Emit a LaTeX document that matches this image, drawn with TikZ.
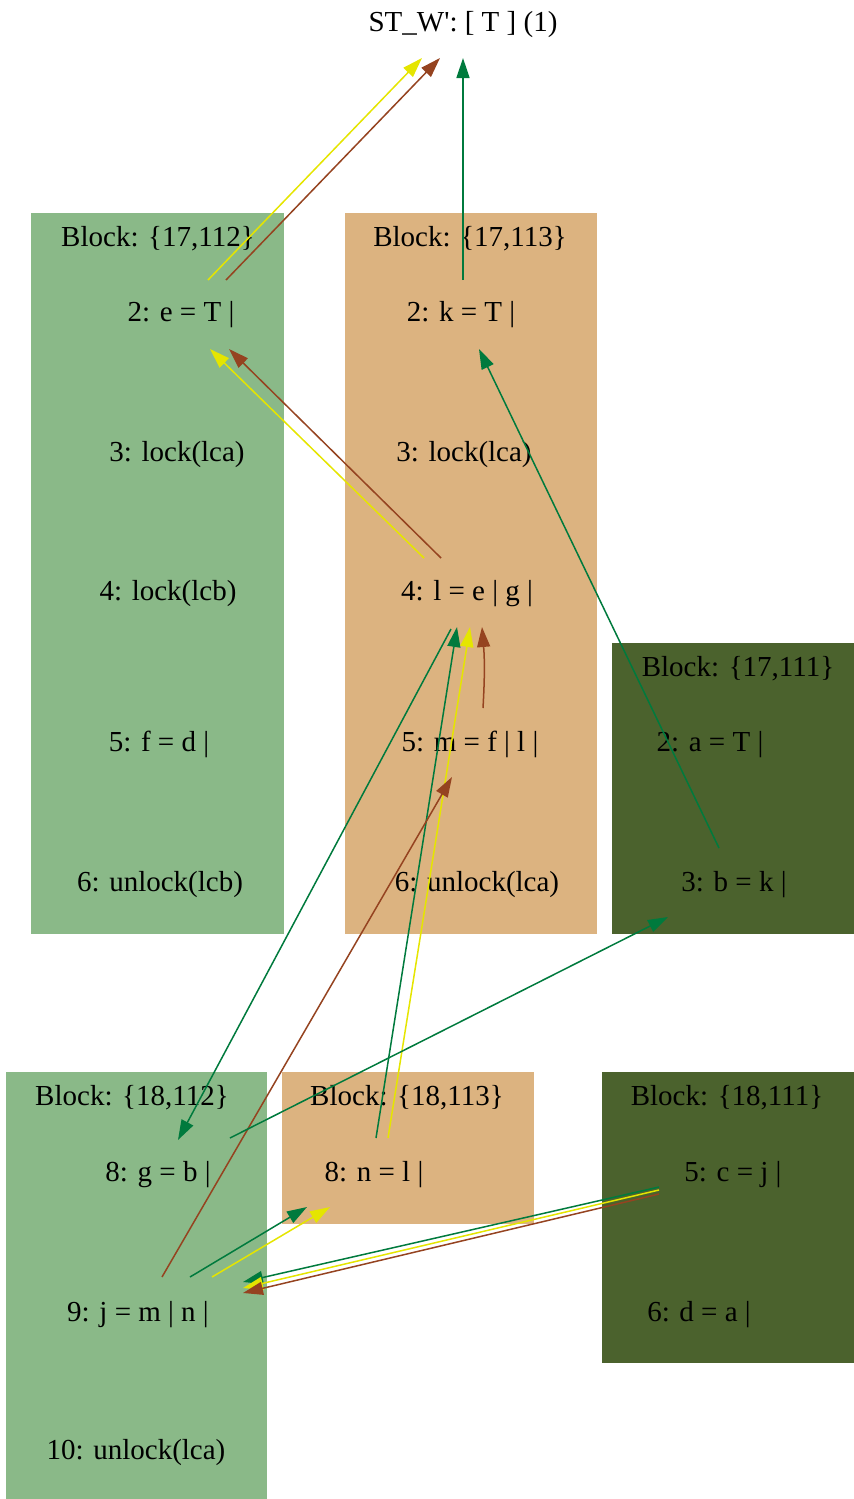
\documentclass[tikz,border=0pt]{standalone}
\usepackage{fontspec}
\setmainfont{Liberation Serif}
\usetikzlibrary{arrows.meta}

\definecolor{blkgreen}{HTML}{8AB988}
\definecolor{blktan}{HTML}{DCB380}
\definecolor{blkolive}{HTML}{4B622D}
\definecolor{eyel}{HTML}{E5E500}
\definecolor{ebrn}{HTML}{954320}
\definecolor{egrn}{HTML}{007A3D}

\begin{document}
\begin{tikzpicture}[
  x=0.5pt, y=-0.5pt,
  font=\fontsize{14.5}{17}\selectfont, >={Triangle[length=10pt,width=6.5pt]},
  lbl/.style={inner sep=0pt, text height=0.94em, text depth=0pt},
  stmt/.style={lbl},
  yel/.style={->, line width=0.75pt, color=eyel},
  brn/.style={->, line width=0.75pt, color=ebrn},
  grn/.style={->, line width=0.75pt, color=egrn},
]
\useasboundingbox (0,0) rectangle (854,1499);

% blocks
\fill[blkgreen] (31,213) rectangle (284,934);
\fill[blktan]   (345,213) rectangle (597,934);
\fill[blkolive] (612,643) rectangle (854,934);
\fill[blkgreen] (6,1072) rectangle (267,1499);
\fill[blktan]   (282,1072) rectangle (534,1224);
\fill[blkolive] (602,1072) rectangle (854,1363);

\node[lbl] (title) at (463,22) {ST\_W\textquotesingle: [ T ] (1)};

\node[lbl] (bk17x112) at (158,237)  {Block: \{17,112\}};
\node[lbl] (bk17x113) at (470,237)  {Block: \{17,113\}};
\node[lbl] (bk17x111) at (738,667)  {Block: \{17,111\}};
\node[lbl] (bk18x112) at (132,1096) {Block: \{18,112\}};
\node[lbl] (bk18x113) at (407,1096) {Block: \{18,113\}};
\node[lbl] (bk18x111) at (727,1096) {Block: \{18,111\}};

% block {17,112}
\node[stmt] (e2)    at (181,312) {2: e = T |};
\node[stmt] (lcaL3) at (177,452) {3: lock(lca)};
\node[stmt] (lcb4)  at (168,591) {4: lock(lcb)};
\node[stmt] (f5)    at (159,742) {5: f = d |};
\node[stmt] (unlL6) at (160,882) {6: unlock(lcb)};
% block {17,113}
\node[stmt] (k2)    at (461,312) {2: k = T |};
\node[stmt] (lcaR3) at (464,452) {3: lock(lca)};
\node[stmt] (l4)    at (467,591) {4: l = e | g |};
\node[stmt] (m5)    at (470,742) {5: m = f | l |};
\node[stmt] (unlR6) at (477,882) {6: unlock(lca)};
% block {17,111}
\node[stmt] (a2)    at (710,742) {2: a = T |};
\node[stmt] (b3)    at (734,882) {3: b = k |};
% block {18,112}
\node[stmt] (g8)    at (158,1172) {8: g = b |};
\node[stmt] (j9)    at (138,1312) {9: j = m | n |};
\node[stmt] (unl10) at (136,1450) {10: unlock(lca)};
% block {18,113}
\node[stmt] (n8)    at (374,1172) {8: n = l |};
% block {18,111}
\node[stmt] (c5)    at (733,1172) {5: c = j |};
\node[stmt] (d6)    at (699,1312) {6: d = a |};

% edges
\draw[yel] ([shift={(27,-32)}]e2.center) -- ([shift={(-41,36)}]title.center);
\draw[brn] ([shift={(45,-32)}]e2.center) -- ([shift={(-23,36)}]title.center);
\draw[grn] ([shift={(2,-32)}]k2.center) -- ([shift={(0,36)}]title.center);

\draw[yel] ([shift={(-43,-33)}]l4.center) -- ([shift={(29,37)}]e2.center);
\draw[brn] ([shift={(-26,-33)}]l4.center) -- ([shift={(48,37)}]e2.center);
\draw[grn] ([shift={(-15,-34)}]b3.center) -- ([shift={(18,37)}]k2.center);

\draw[brn] ([shift={(13,-34)}]m5.center) to[bend right=4] ([shift={(15,36)}]l4.center);
\draw[grn] ([shift={(2,-34)}]n8.center) -- ([shift={(-10,36)}]l4.center);
\draw[yel] ([shift={(14,-34)}]n8.center) -- ([shift={(3,36)}]l4.center);
\draw[grn] ([shift={(-16,38)}]l4.center) -- ([shift={(20,-32)}]g8.center);

\draw[brn] ([shift={(24,-35)}]j9.center) -- ([shift={(-18,35)}]m5.center);
\draw[grn] ([shift={(72,-34)}]g8.center) -- ([shift={(-66,35)}]b3.center);
\draw[grn] ([shift={(52,-35)}]j9.center) -- ([shift={(-67,35)}]n8.center);
\draw[yel] ([shift={(74,-35)}]j9.center) -- ([shift={(-44,35)}]n8.center);

\draw[grn] ([shift={(-74,15)}]c5.center) -- ([shift={(105,-30)}]j9.center);
\draw[yel] ([shift={(-74,18)}]c5.center) -- ([shift={(105,-24)}]j9.center);
\draw[brn] ([shift={(-74,22)}]c5.center) -- ([shift={(105,-19)}]j9.center);
\end{tikzpicture}
\end{document}
